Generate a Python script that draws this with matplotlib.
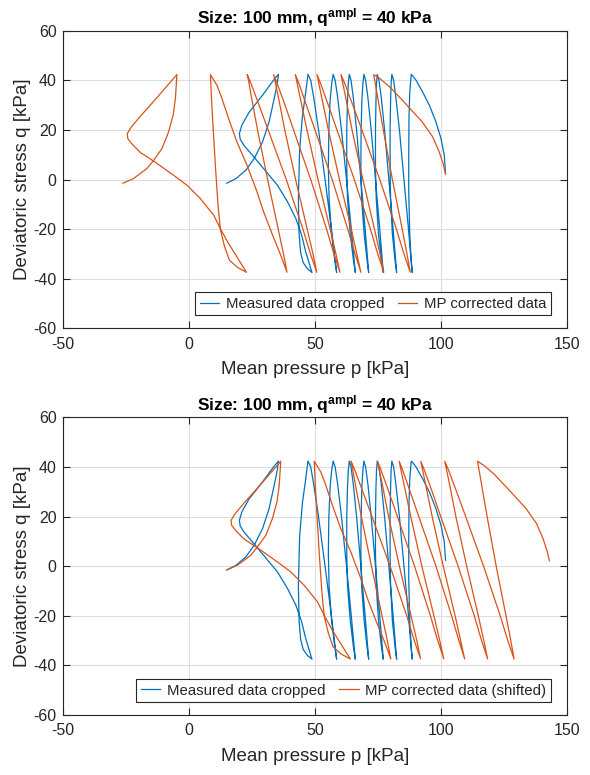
import matplotlib
matplotlib.use("Agg")
import matplotlib.pyplot as plt
import numpy as np

# ---------------- data ----------------
# Measured data cropped: mean pressure p [kPa] and deviatoric stress q [kPa]
meas_p = [15.0, 18.7, 22.6, 25.9, 29.2, 31.8, 33.8, 35.0, 35.5,
          33.5, 29.2, 23.9, 21.0, 20.0, 20.3, 21.8, 25.9, 30.5, 35.1, 39.1, 42.4, 44.7, 46.3, 47.9, 48.8,
          47.0, 45.3, 44.3, 43.7, 43.4, 43.9, 45.0, 46.3, 47.2,
          48.3, 49.5, 51.4, 54.0, 56.5, 57.7, 58.6,
          57.9, 56.6, 55.6, 55.3, 55.5, 56.0, 56.6, 57.2,
          58.0, 59.0, 60.5, 62.5, 64.4, 65.3, 66.0,
          65.3, 64.0, 62.9, 62.6, 62.6, 62.9, 63.2, 63.6,
          64.3, 65.2, 66.5, 68.2, 69.9, 70.7, 71.3,
          70.7, 69.5, 68.5, 68.2, 68.3, 68.6, 69.0, 69.4,
          70.1, 71.0, 72.3, 74.0, 75.7, 76.5, 77.1,
          76.4, 75.2, 74.3, 74.0, 74.0, 74.2, 74.4, 74.7,
          75.4, 76.3, 77.6, 79.3, 81.0, 81.8, 82.4,
          81.8, 80.7, 80.0, 79.8, 79.8, 80.0, 80.2, 80.5,
          81.2, 82.1, 83.5, 85.3, 87.1, 87.9, 88.6,
          88.2, 87.6, 87.2, 87.2, 87.3, 87.6, 88.2,
          89.0, 90.1, 92.7, 95.4, 98.0, 100.0, 101.3, 101.8]
meas_q = [-1.5, 0.4, 3.8, 8.5, 15.2, 23.3, 32.6, 38.5, 42.4,
          40.0, 34.0, 27.2, 22.0, 18.5, 16.3, 13.8, 8.9, 3.3, -2.3, -9.0, -15.7, -22.4, -29.1, -34.5, -37.5,
          -36.0, -33.5, -29.5, -22.0, -8.0, 12.0, 25.5, 35.0, 42.4,
          40.0, 33.0, 20.0, 0.0, -20.0, -30.0, -37.5,
          -33.0, -22.0, -8.0, 5.0, 20.0, 32.0, 38.5, 42.4,
          40.0, 33.0, 20.0, 0.0, -20.0, -30.0, -37.5,
          -33.0, -22.0, -8.0, 5.0, 20.0, 32.0, 38.5, 42.4,
          40.0, 33.0, 20.0, 0.0, -20.0, -30.0, -37.5,
          -33.0, -22.0, -8.0, 5.0, 20.0, 32.0, 38.5, 42.4,
          40.0, 33.0, 20.0, 0.0, -20.0, -30.0, -37.5,
          -33.0, -22.0, -8.0, 5.0, 20.0, 32.0, 38.5, 42.4,
          40.0, 33.0, 20.0, 0.0, -20.0, -30.0, -37.5,
          -33.0, -22.0, -8.0, 5.0, 20.0, 32.0, 38.5, 42.4,
          40.0, 33.0, 20.0, 0.0, -20.0, -30.0, -37.5,
          -33.0, -22.0, -5.0, 10.0, 25.0, 35.0, 42.4,
          41.5, 40.0, 35.3, 29.9, 23.2, 16.5, 9.8, 2.4]

# MP corrected data
mp_p = [-26.2, -22.0, -16.7, -14.0, -10.7, -8.1, -6.3, -5.4, -4.8,
        -9.5, -14.2, -19.5, -23.0, -24.5, -24.3, -22.5, -19.3, -14.0, -6.1, -0.8, 4.5, 9.8, 12.4, 15.5, 19.5, 22.8,
        19.3, 16.0, 14.1, 13.0, 12.4, 11.5, 10.5, 9.5, 8.9, 8.5,
        11.1, 13.1, 15.7, 19.0, 23.0, 27.0, 29.6, 33.0, 36.2, 38.9,
        37.5, 35.4, 31.2, 27.2, 24.8, 23.6, 23.1,
        24.5, 27.8, 31.4, 38.6, 45.2, 48.2, 50.7,
        49.2, 46.9, 42.3, 38.0, 35.5, 34.1, 33.6,
        34.9, 38.1, 41.5, 48.3, 54.6, 57.5, 59.9,
        58.3, 56.0, 51.2, 46.8, 44.1, 42.7, 42.2,
        43.5, 46.6, 50.0, 56.8, 63.0, 65.9, 68.2,
        66.6, 64.4, 59.7, 55.3, 52.7, 51.3, 50.8,
        52.1, 55.3, 58.7, 65.6, 72.0, 74.9, 77.3,
        75.8, 73.6, 69.0, 64.7, 62.2, 60.8, 60.3,
        61.7, 65.0, 68.6, 75.7, 82.3, 85.3, 87.8,
        86.5, 84.6, 80.7, 77.1, 74.9, 73.7, 73.3,
        76.0, 80.0, 86.0, 92.5, 96.7, 99.3, 101.0, 101.8]
mp_q = [-1.5, 0.4, 4.4, 7.8, 12.5, 19.2, 25.9, 32.6, 42.3,
        36.8, 31.3, 25.3, 21.0, 18.5, 16.5, 14.2, 10.9, 7.4, 1.7, -2.3, -7.7, -14.4, -19.7, -25.5, -32.0, -37.4,
        -35.5, -32.5, -27.0, -22.5, -19.7, -10.0, 5.0, 22.0, 33.0, 42.3,
        38.0, 32.6, 24.6, 15.2, 5.8, -5.0, -13.0, -22.0, -30.0, -37.4,
        -30.0, -20.0, 0.0, 20.0, 33.0, 40.0, 42.3,
        39.0, 30.0, 20.0, 0.0, -20.0, -30.0, -37.4,
        -30.0, -20.0, 0.0, 20.0, 33.0, 40.0, 42.3,
        39.0, 30.0, 20.0, 0.0, -20.0, -30.0, -37.4,
        -30.0, -20.0, 0.0, 20.0, 33.0, 40.0, 42.3,
        39.0, 30.0, 20.0, 0.0, -20.0, -30.0, -37.4,
        -30.0, -20.0, 0.0, 20.0, 33.0, 40.0, 42.3,
        39.0, 30.0, 20.0, 0.0, -20.0, -30.0, -37.4,
        -30.0, -20.0, 0.0, 20.0, 33.0, 40.0, 42.3,
        39.0, 30.0, 20.0, 0.0, -20.0, -30.0, -37.4,
        -30.0, -20.0, 0.0, 20.0, 33.0, 40.0, 42.3,
        40.5, 37.0, 30.5, 23.3, 17.2, 11.1, 5.8, 2.2]

# shift used in the lower panel: corrected path moved to start where measured starts
p_shift = meas_p[0] - mp_p[0]

x_ticks = [-50, 0, 50, 100, 150]
y_ticks = [-60, -40, -20, 0, 20, 40, 60]
title_txt = r"Size: 100 mm, $\mathbf{q^{ampl}}$ = 40 kPa"
legend_top = ["Measured data cropped", "MP corrected data"]
legend_bot = ["Measured data cropped", "MP corrected data (shifted)"]

# ---------------- style ----------------
plt.rcParams['font.family'] = ['Liberation Sans', 'DejaVu Sans']
plt.rcParams['mathtext.fontset'] = 'custom'
plt.rcParams['mathtext.rm'] = 'Liberation Sans'
plt.rcParams['mathtext.bf'] = 'Liberation Sans:bold'
plt.rcParams['mathtext.it'] = 'Liberation Sans:italic'
plt.rcParams['axes.unicode_minus'] = False

BLUE = '#0072BD'
ORANGE = '#D95319'
DARK = '#262626'
GRID = '#dedede'

W, H = 590, 775
fig = plt.figure(figsize=(W / 100, H / 100), dpi=100)

ax_left = 63 / W
ax_w = 504 / W
ax_h = 297.6 / H
ax1 = fig.add_axes([ax_left, 1 - 328.3 / H, ax_w, ax_h])
ax2 = fig.add_axes([ax_left, 1 - 715.0 / H, ax_w, ax_h])


def style(ax, labels):
    ax.set_xlim(-50, 150)
    ax.set_ylim(-60, 60)
    ax.set_xticks(x_ticks)
    ax.set_yticks(y_ticks)
    ax.grid(True, color=GRID, linewidth=0.8)
    ax.set_axisbelow(True)
    for s in ax.spines.values():
        s.set_color(DARK)
        s.set_linewidth(0.8)
    ax.tick_params(direction='in', length=5, width=0.8, colors=DARK,
                   labelsize=11.5, top=True, right=True)
    ax.tick_params(axis='x', pad=6)
    ax.tick_params(axis='y', pad=4.5)
    ax.set_xlabel("Mean pressure p [kPa]", fontsize=13.5, color=DARK, labelpad=7)
    ax.set_ylabel("Deviatoric stress q [kPa]", fontsize=13.5, color=DARK, labelpad=2)
    ax.set_title(title_txt, fontsize=12.5, fontweight='bold', color='black', pad=5)
    leg = ax.legend(labels, loc='lower right', ncol=2,
                    bbox_to_anchor=(1 - 16 / 504, 13 / 297.6), borderaxespad=0,
                    fontsize=10.8, frameon=True, fancybox=False, framealpha=1,
                    edgecolor=DARK, handlelength=1.3, handletextpad=0.45,
                    columnspacing=0.9, borderpad=0.3)
    leg.get_frame().set_linewidth(0.8)
    for t in leg.get_texts():
        t.set_color(DARK)


ax1.plot(meas_p, meas_q, color=BLUE, lw=0.9)
ax1.plot(mp_p, mp_q, color=ORANGE, lw=0.9)
style(ax1, legend_top)

ax2.plot(meas_p, meas_q, color=BLUE, lw=0.9)
ax2.plot(np.asarray(mp_p) + p_shift, mp_q, color=ORANGE, lw=0.9)
style(ax2, legend_bot)

fig.savefig("out.png", dpi=100)
